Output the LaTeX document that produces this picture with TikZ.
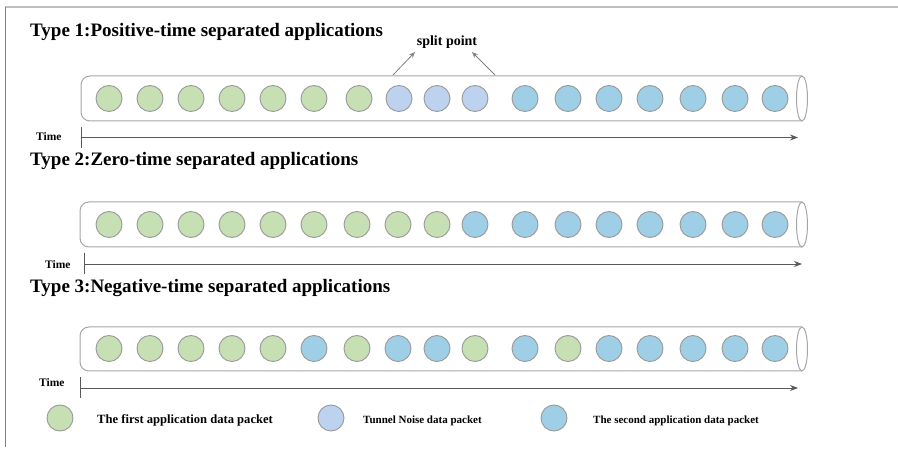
\documentclass[tikz,border=0pt]{standalone}
\usepackage{fontspec}
\setmainfont{Liberation Serif}
\usetikzlibrary{arrows.meta}
\definecolor{pgreen}{HTML}{C6E0B4}
\definecolor{pblue}{HTML}{9ECFE6}
\definecolor{pnoise}{HTML}{BDD2EE}
\definecolor{pstroke}{HTML}{999999}
\definecolor{tubec}{HTML}{A6A6A6}
\definecolor{axisc}{HTML}{595959}
\definecolor{framec}{HTML}{BFBFBF}
\begin{document}
\begin{tikzpicture}[x=1pt,y=-1pt,
  pkt/.style={circle, draw=pstroke, line width=0.9pt, minimum size=26pt, inner sep=0pt},
  tube/.style={draw=tubec, line width=1pt},
  tubebody/.style={tube, rounded corners=9pt},
  axisline/.style={draw=axisc, line width=0.9pt, -{Stealth[length=8pt,width=6pt]}},
  axistick/.style={draw=axisc, line width=0.9pt},
  titletext/.style={font=\fontsize{19}{19}\selectfont\bfseries, anchor=base west, inner sep=0pt},
  timetext/.style={font=\fontsize{11.5}{11.5}\selectfont\bfseries, anchor=base west, inner sep=0pt},
  legtext/.style={font=\fontsize{11}{11}\selectfont\bfseries, anchor=base west, inner sep=0pt},
  splittext/.style={font=\fontsize{14}{14}\selectfont\bfseries, inner sep=0pt},
  splitarrow/.style={draw=gray, line width=0.8pt, -{Stealth[length=6pt,width=5pt,open]}}
]
\useasboundingbox (0,0) rectangle (898,449);
% frame
\draw[framec, line width=1.5pt] (5,7) -- (898,7);
\draw[gray, line width=0.8pt] (5,7) -- (5,447);

% ---------- Type 1 ----------
\node[titletext] (title1) at (30,36.5) {Type 1:Positive-time separated applications};
\draw[tubebody] (802,76) -- (81,76) -- (81,121) -- (802,121);
\draw[tube] (802,98.5) ellipse [x radius=5.5pt, y radius=22.5pt];
\foreach \x/\c [count=\i] in {109/pgreen,150/pgreen,191/pgreen,232/pgreen,273/pgreen,314/pgreen,359/pgreen,399/pnoise,437/pnoise,475/pnoise,525/pblue,568/pblue,609/pblue,650/pblue,693/pblue,735/pblue,775/pblue}
  \node[pkt, fill=\c] (a\i) at (\x,98.5) {};
\node[splittext] (split) at (447,42) {split point};
\coordinate (sl0) at (393,75);
\coordinate (sl1) at (415,52);
\coordinate (sr0) at (495,75);
\coordinate (sr1) at (472,52);
\draw[splitarrow] (sl0) -- (sl1);
\draw[splitarrow] (sr0) -- (sr1);
\node[timetext] (time1) at (36,141) {Time};
\coordinate (s1) at (81,137.5);
\coordinate (e1) at (798,137.5);
\draw[axistick] (81,127) -- (81,148);
\draw[axisline] (s1) -- (e1);

% ---------- Type 2 ----------
\node[titletext] (title2) at (30,165.5) {Type 2:Zero-time separated applications};
\draw[tubebody] (802,202) -- (80,202) -- (80,247) -- (802,247);
\draw[tube] (802,224.5) ellipse [x radius=5.5pt, y radius=22.5pt];
\foreach \x/\c [count=\i] in {109/pgreen,150/pgreen,191/pgreen,232/pgreen,273/pgreen,314/pgreen,357/pgreen,398/pgreen,437/pgreen,475/pblue,525/pblue,568/pblue,609/pblue,650/pblue,693/pblue,735/pblue,775/pblue}
  \node[pkt, fill=\c] (b\i) at (\x,224.5) {};
\node[timetext] (time2) at (45,268.5) {Time};
\coordinate (s2) at (84,264);
\coordinate (e2) at (802,264);
\draw[axistick] (84,253) -- (84,274);
\draw[axisline] (s2) -- (e2);

% ---------- Type 3 ----------
\node[titletext] (title3) at (30,293) {Type 3:Negative-time separated applications};
\draw[tubebody] (802,327) -- (80,327) -- (80,371) -- (802,371);
\draw[tube] (802,349) ellipse [x radius=5.5pt, y radius=22pt];
\foreach \x/\c [count=\i] in {109/pgreen,150/pgreen,191/pgreen,232/pgreen,273/pgreen,314/pblue,357/pgreen,398/pblue,437/pblue,475/pgreen,525/pblue,568/pgreen,609/pblue,650/pblue,693/pblue,735/pblue,775/pblue}
  \node[pkt, fill=\c] (c\i) at (\x,348.5) {};
\node[timetext] (time3) at (39,387) {Time};
\coordinate (s3) at (80,388);
\coordinate (e3) at (798,388);
\draw[axistick] (80,377) -- (80,398);
\draw[axisline] (s3) -- (e3);

% ---------- Legend ----------
\node[pkt, fill=pgreen] (lg1) at (60,418) {};
\node[legtext, font=\fontsize{12.6}{12.6}\selectfont\bfseries] (lt1) at (97,423) {The first application data packet};
\node[pkt, fill=pnoise] (lg2) at (331,418) {};
\node[legtext] (lt2) at (363,423) {Tunnel Noise data packet};
\node[pkt, fill=pblue] (lg3) at (554,418) {};
\node[legtext] (lt3) at (593,423) {The second application data packet};
\end{tikzpicture}
\end{document}
